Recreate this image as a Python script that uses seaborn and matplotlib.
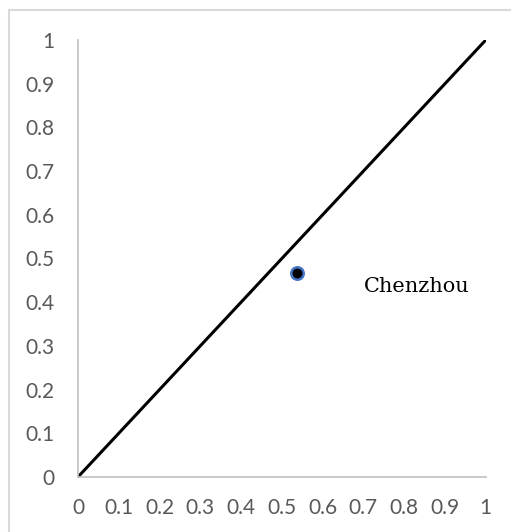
import numpy as np
import matplotlib
matplotlib.use("Agg")
import matplotlib.pyplot as plt
from matplotlib.lines import Line2D
import seaborn as sns
import pandas as pd

# diagonal reference line and the single city point
line_x = [0, 1]
line_y = [0, 1]
city_names = ["Chenzhou"]
city_x = [0.536]
city_y = [0.467]
ticks = [0, 0.1, 0.2, 0.3, 0.4, 0.5, 0.6, 0.7, 0.8, 0.9, 1]
tick_labels = ["0", "0.1", "0.2", "0.3", "0.4", "0.5", "0.6", "0.7", "0.8", "0.9", "1"]

sns.set_style("white")
plt.rcParams["font.family"] = ["Lato", "DejaVu Sans"]

fig = plt.figure(figsize=(5.11, 5.32), dpi=100)
ax = fig.add_axes([0.1526, 0.1034, 0.798, 0.8214])

sns.lineplot(x=line_x, y=line_y, ax=ax, color="black", linewidth=2.2)
pts = pd.DataFrame({"x": city_x, "y": city_y, "name": city_names})
sns.scatterplot(data=pts, x="x", y="y", ax=ax, color="black", edgecolor="#4472C4",
                linewidth=1.8, s=80, zorder=5)
for _, r in pts.iterrows():
    ax.text(r["x"] + 0.164, r["y"] - 0.03, r["name"], family=["DejaVu Serif"],
            fontsize=15, color="black", va="center")

ax.set_xlim(0, 1)
ax.set_ylim(0, 1)
ax.set_xticks(ticks)
ax.set_xticklabels(tick_labels)
ax.set_yticks(ticks)
ax.set_yticklabels(tick_labels)
ax.set_xlabel("")
ax.set_ylabel("")
ax.tick_params(axis="both", length=0, labelsize=15, labelcolor="#595959")
ax.tick_params(axis="x", pad=15)
ax.tick_params(axis="y", pad=17)
for s in ["top", "right"]:
    ax.spines[s].set_visible(False)
for s in ["left", "bottom"]:
    ax.spines[s].set_color("#bfbfbf")
    ax.spines[s].set_linewidth(1.2)

# outer chart border (only top and left are visible in the crop)
fig.add_artist(Line2D([9 / 511, 1], [1 - 10 / 532, 1 - 10 / 532], color="#d9d9d9", lw=1.5, transform=fig.transFigure))
fig.add_artist(Line2D([9 / 511, 9 / 511], [0, 1 - 10 / 532], color="#d9d9d9", lw=1.5, transform=fig.transFigure))

fig.savefig("out.png", dpi=100)
